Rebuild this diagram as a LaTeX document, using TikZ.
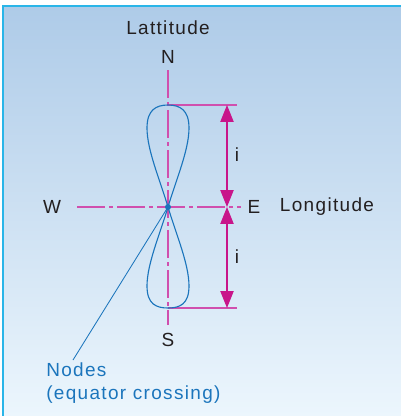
\documentclass[tikz,border=0pt]{standalone}
\usepackage{fontspec}
\setmainfont{Liberation Sans}[LetterSpace=7]
\usetikzlibrary{arrows.meta}
\definecolor{bgtop}{HTML}{AECBE8}
\definecolor{bgbot}{HTML}{ECF6FD}
\definecolor{framecol}{HTML}{29B5E8}
\definecolor{axiscol}{HTML}{D04FAE}
\definecolor{dimcol}{HTML}{C8158A}
\definecolor{orbitcol}{HTML}{1B75BC}
\definecolor{txtcol}{HTML}{231F20}
\tikzset{
  lbl/.style={text=txtcol, font=\fontsize{13.5}{17}\selectfont, inner sep=0pt},
  axis/.style={axiscol, line width=0.8pt, dash pattern=on 0.7cm off 0.1cm on 0.1cm off 0.1cm},
  dimline/.style={dimcol, line width=0.8pt, {Triangle[length=0.42cm,width=0.33cm]}-{Triangle[length=0.42cm,width=0.33cm]}},
  extline/.style={axiscol, line width=0.8pt},
  orbit/.style={orbitcol, line width=0.8pt}
}
\begin{document}
\begin{tikzpicture}[x=0.025cm,y=-0.025cm]
\useasboundingbox (0,0) rectangle (401,416);
% background and frame
\shade[top color=bgtop, bottom color=bgbot] (3,6) rectangle (401,416);
\draw[framecol, line width=1.6pt] (401,6) -- (3,6) -- (3,416);
% key points
\coordinate (O) at (168,207);
\coordinate (top) at (168,105);
\coordinate (bot) at (168,308);
\coordinate (dtop) at (227,105);
\coordinate (dmid) at (227,207);
\coordinate (dbot) at (227,308);
\coordinate (etop) at (237,105);
\coordinate (ebot) at (237,308);
\coordinate (nup) at (168,70);
\coordinate (sdn) at (168,325);
\coordinate (wl) at (77,207);
\coordinate (er) at (241,207);
\coordinate (lead) at (73,360);
% labels
\node[lbl] (lat) at (168,28) {Lattitude};
\node[lbl] (N) at (168,57) {N};
\node[lbl] (S) at (168,340) {S};
\node[lbl] (W) at (52,207) {W};
\node[lbl] (E) at (254,207) {E};
\node[lbl] (lon) at (327,207) {Longitude};
\node[lbl] (i1) at (237,155) {i};
\node[lbl] (i2) at (237,257) {i};
% axes
\draw[axis] (nup) -- (sdn);
\draw[axis] (wl) -- (er);
% extension lines and dimensions
\draw[extline] (top) -- (etop);
\draw[extline] (bot) -- (ebot);
\draw[dimline] (dtop) -- (dmid);
\draw[dimline] (dmid) -- (dbot);
% ground track lobes
\draw[orbit] (O) .. controls (176,180) and (189,150) .. (189,128)
  .. controls (189,110) and (180,105) .. (top)
  .. controls (156,105) and (147,110) .. (147,128)
  .. controls (147,150) and (160,180) .. (O);
\draw[orbit] (O) .. controls (176,234) and (189,264) .. (189,286)
  .. controls (189,304) and (180,308) .. (bot)
  .. controls (156,308) and (147,304) .. (147,286)
  .. controls (147,264) and (160,234) .. (O);
\fill[orbitcol] (O) circle[radius=3];
% node label
\draw[orbitcol, line width=0.6pt] (O) -- (lead);
\node[lbl, text=orbitcol, anchor=north west, align=left] (nodes) at (46,362)
  {Nodes\\(equator\ crossing)};
\end{tikzpicture}
\end{document}
